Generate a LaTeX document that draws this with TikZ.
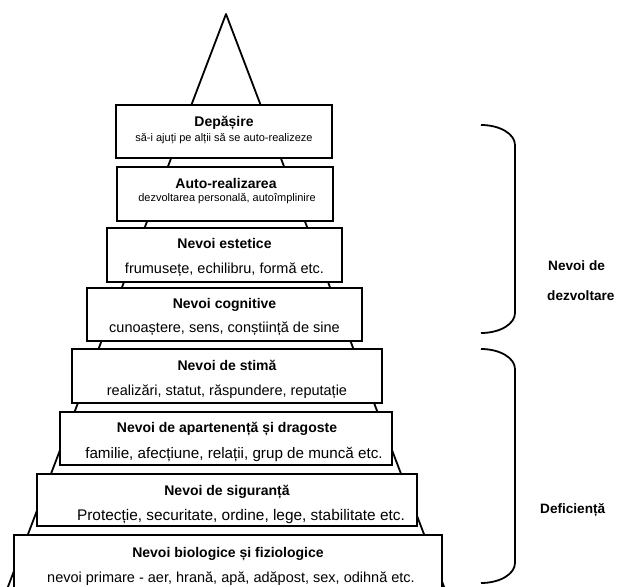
\documentclass[tikz,border=0pt]{standalone}
\usepackage{fontspec}
\setmainfont{Liberation Sans}
\begin{document}
\begin{tikzpicture}[x=1pt,y=-1pt,
  box/.style={draw=black, fill=white, line width=1.8pt, inner sep=0pt, outer sep=0pt},
  ttl/.style={font=\fontsize{14}{16}\selectfont\bfseries, inner sep=0pt, anchor=base},
  subs/.style={font=\fontsize{11}{13}\selectfont, inner sep=0pt, anchor=base},
  subl/.style={font=\fontsize{14.5}{17}\selectfont, inner sep=0pt, anchor=base},
  side/.style={font=\fontsize{13.6}{16}\selectfont\bfseries, inner sep=0pt, anchor=base west},
  edge/.style={line width=1.8pt, line join=round},
  brace/.style={line width=1.8pt}]
\clip (0,0) rectangle (625,587);
\fill[white] (0,0) rectangle (625,587);
% triangle
\coordinate (apex) at (226,14);
\coordinate (bl) at (6,592);
\coordinate (br) at (446,592);
\draw[edge] (bl) -- (apex) -- (br);
% boxes
\node[box, minimum width=216, minimum height=53] (b1) at (224,131.5) {};
\node[box, minimum width=216, minimum height=54] (b2) at (225,194) {};
\node[box, minimum width=235, minimum height=54] (b3) at (224.5,255) {};
\node[box, minimum width=275, minimum height=53] (b4) at (224.5,314.5) {};
\node[box, minimum width=310, minimum height=54] (b5) at (227,376) {};
\node[box, minimum width=332, minimum height=53] (b6) at (226,438.5) {};
\node[box, minimum width=380, minimum height=52] (b7) at (227,500) {};
\node[box, minimum width=428, minimum height=65] (b8) at (228,567.5) {};
% texts
\node[ttl] (t1) at (224,126) {Depășire};
\node[subs] (s1) at (224,141) {să-i ajuți pe alții să se auto-realizeze};
\node[ttl] (t2) at (226,188) {Auto-realizarea};
\node[subs] (s2) at (227,201) {dezvoltarea personală, autoîmplinire};
\node[ttl] (t3) at (224.5,248) {Nevoi estetice};
\node[subl] (s3) at (224.5,273) {frumusețe, echilibru, formă etc.};
\node[ttl] (t4) at (224.5,308) {Nevoi cognitive};
\node[subl] (s4) at (224.5,332) {cunoaștere, sens, conștiință de sine};
\node[ttl] (t5) at (227,370) {Nevoi de stimă};
\node[subl] (s5) at (227,395) {realizări, statut, răspundere, reputație};
\node[ttl] (t6) at (227,432) {Nevoi de apartenență și dragoste};
\node[subl, font=\fontsize{15.2}{17}\selectfont] (s6) at (234,458) {familie, afecțiune, relații, grup de muncă etc.};
\node[ttl] (t7) at (227,495) {Nevoi de siguranță};
\node[subl, font=\fontsize{15.4}{17}\selectfont] (s7) at (241,520) {Protecție, securitate, ordine, lege, stabilitate etc.};
\node[ttl] (t8) at (228,557) {Nevoi biologice și fiziologice};
\node[subl] (s8) at (231,582) {nevoi primare - aer, hrană, apă, adăpost, sex, odihnă etc.};
% braces
\coordinate (u1) at (481,125);
\coordinate (u2) at (515,145);
\coordinate (u3) at (515,313);
\coordinate (u4) at (481,333);
\draw[brace] (u1) .. controls (500,125) and (515,134) .. (u2) -- (u3) .. controls (515,324) and (500,333) .. (u4);
\coordinate (l1) at (481,349);
\coordinate (l2) at (515,369);
\coordinate (l3) at (515,563);
\coordinate (l4) at (481,583);
\draw[brace] (l1) .. controls (500,349) and (515,358) .. (l2) -- (l3) .. controls (515,574) and (500,583) .. (l4);
% side labels
\node[side] (n1) at (548,270) {Nevoi de};
\node[side] (n2) at (547,300) {dezvoltare};
\node[side] (n3) at (540,513) {Deficiență};
\end{tikzpicture}
\end{document}
